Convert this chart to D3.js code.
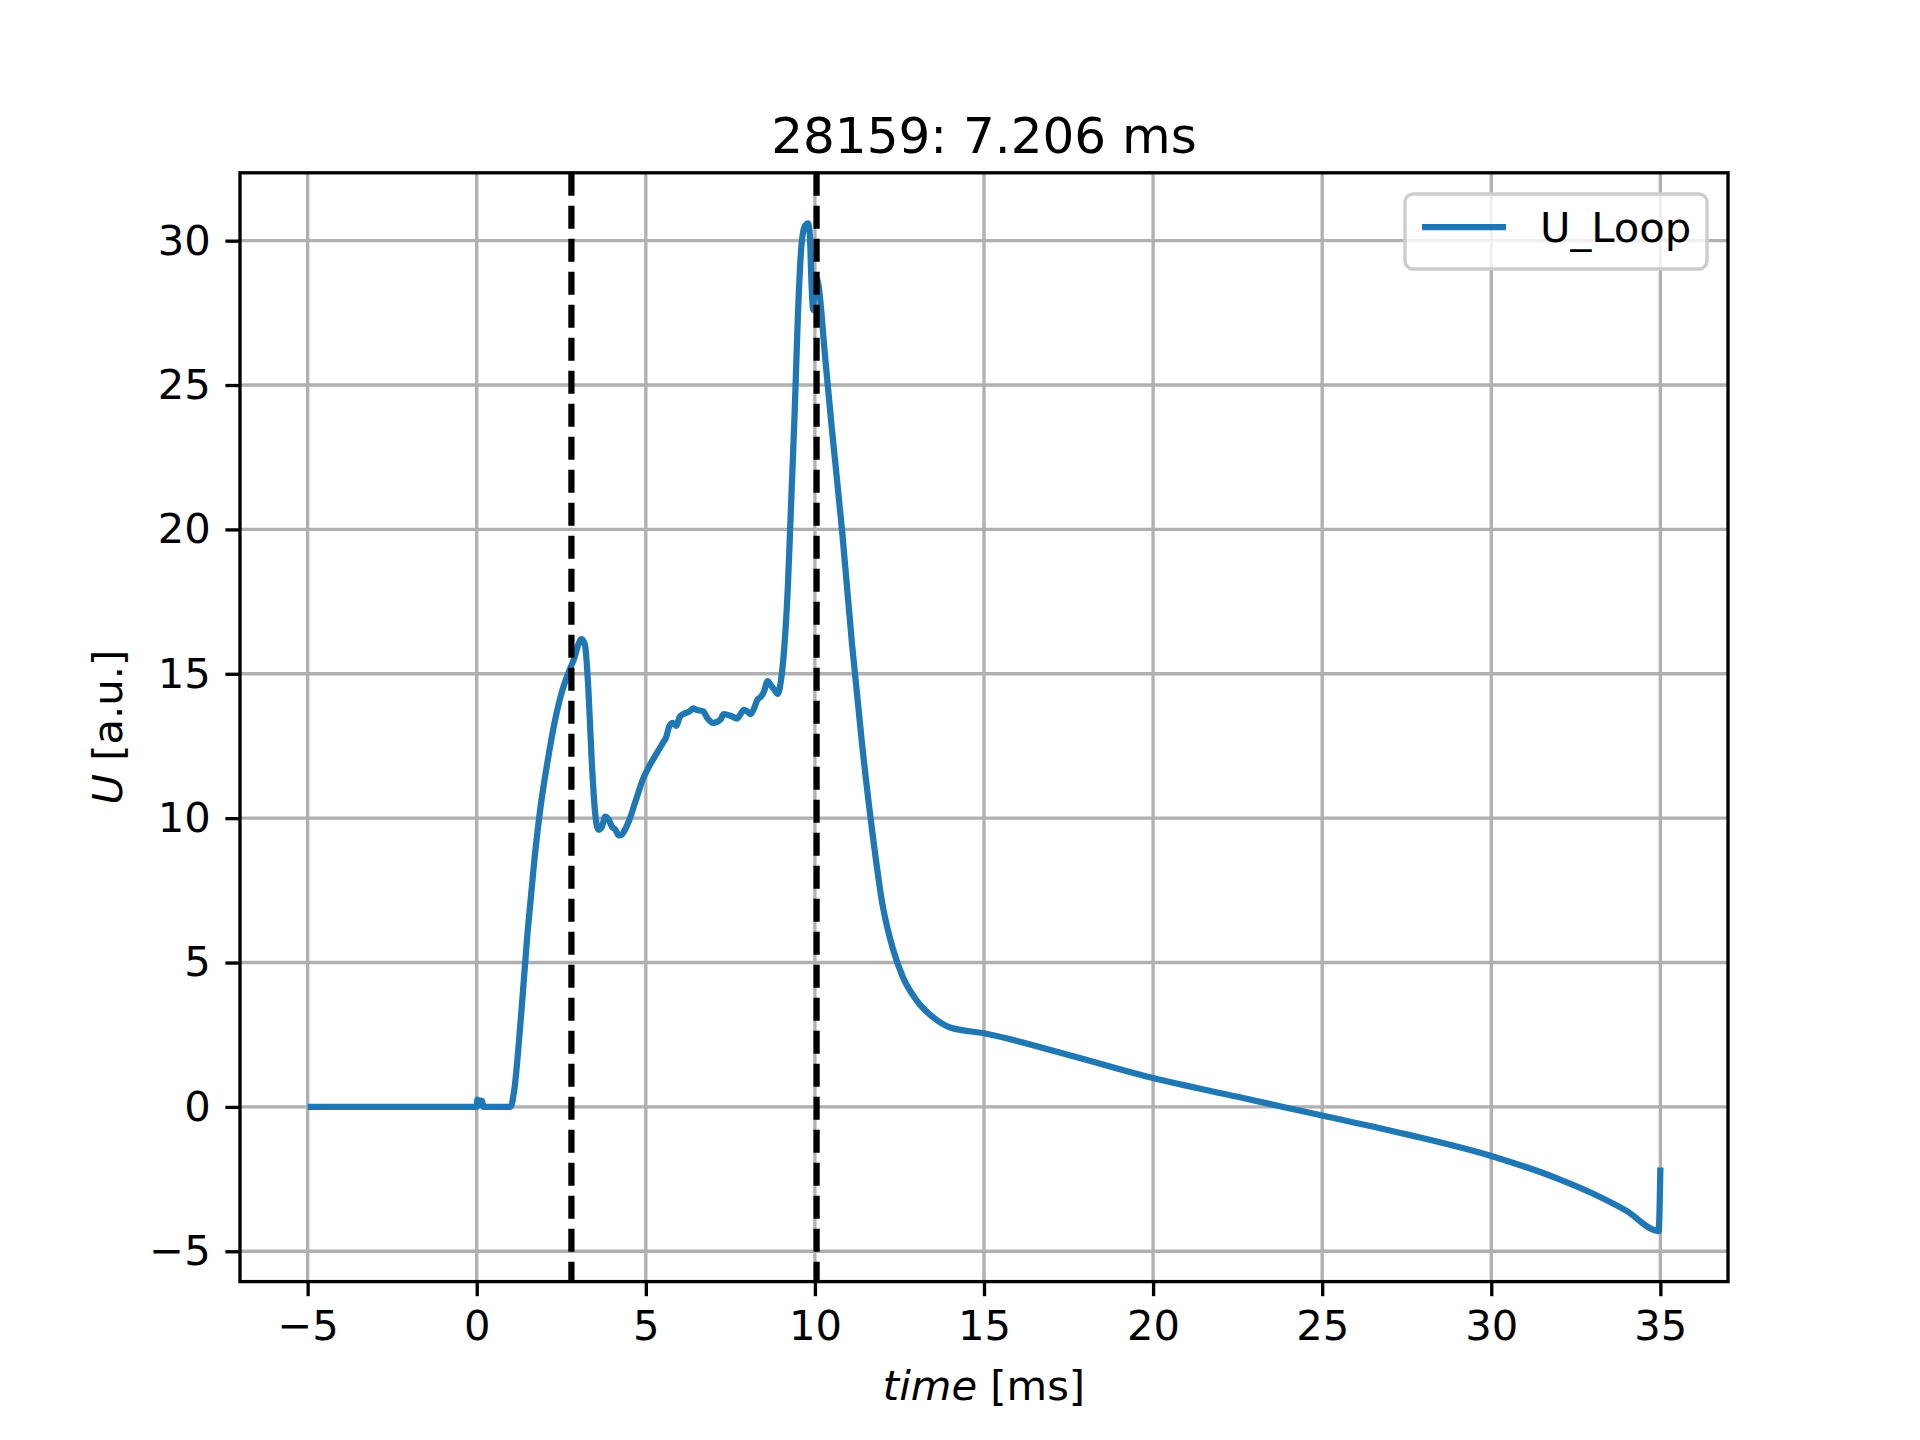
<!DOCTYPE html><html><head><meta charset="utf-8">
<script src="https://cdn.jsdelivr.net/npm/d3@7"></script>
<style>body{margin:0;background:#fff}svg{font-family:"DejaVu Sans",sans-serif}</style></head><body>
<script>
const times=[-5,0,0.02,0.08,0.12,0.16,0.2,0.3,1.0,1.1,1.3,1.5,1.7,1.9,2.1,2.3,2.5,2.7,2.9,3.0,3.1,3.2,3.3,3.4,3.5,3.6,3.7,3.8,3.9,4.0,4.1,4.2,4.3,4.5,4.7,4.9,5.1,5.3,5.5,5.6,5.7,5.8,5.9,6.0,6.1,6.3,6.4,6.5,6.7,6.8,7.0,7.2,7.3,7.5,7.7,7.8,7.9,8.0,8.1,8.2,8.3,8.4,8.5,8.6,8.7,8.8,8.9,9.0,9.1,9.2,9.3,9.4,9.5,9.6,9.7,9.8,9.85,9.9,9.95,10.0,10.1,10.3,10.5,10.8,11.1,11.4,11.7,12.0,12.3,12.6,13,13.5,14,15,17.5,20,22.5,25,27.5,30,32,33,34,34.95,35];
const uLoop=[0,0,0.25,0.05,0.22,0.2,0,0,0,0.5,3,6,8.5,10.5,12,13.3,14.3,15,15.6,16,16.2,16,14.5,12,10.2,9.6,9.7,10.05,9.95,9.7,9.6,9.4,9.45,9.9,10.6,11.3,11.8,12.2,12.6,12.8,13.2,13.3,13.2,13.5,13.6,13.7,13.8,13.75,13.7,13.5,13.3,13.4,13.6,13.55,13.45,13.6,13.75,13.7,13.6,13.8,14.1,14.2,14.4,14.75,14.6,14.45,14.3,14.8,16,18,21,24,27.5,29.8,30.5,30.6,30.2,28.5,27.6,28.8,28.5,26,23.5,20,16,12.5,9.5,7,5.5,4.5,3.7,3.1,2.75,2.55,1.8,1.0,0.35,-0.3,-0.95,-1.7,-2.5,-3.0,-3.6,-4.3,-2.1];
const xTicks=[-5,0,5,10,15,20,25,30,35];
const yTicks=[-5,0,5,10,15,20,25,30];
const vLines=[2.8,10.05];
const title="28159: 7.206 ms";

const W=1920,H=1440,L=240,R=1728,T=172.8,B=1281.6;
const svg=d3.select("body").append("svg").attr("width",W).attr("height",H);
const x=d3.scaleLinear().domain([-7,37]).range([L,R]);
const y=d3.scaleLinear().domain([-6.05,32.35]).range([B,T]);
const fs=41.7;
// grid
svg.append("g").selectAll("line").data(xTicks).join("line").attr("x1",d=>x(d)).attr("x2",d=>x(d)).attr("y1",T).attr("y2",B).attr("stroke","#b0b0b0").attr("stroke-width",3.33);
svg.append("g").selectAll("line").data(yTicks).join("line").attr("y1",d=>y(d)).attr("y2",d=>y(d)).attr("x1",L).attr("x2",R).attr("stroke","#b0b0b0").attr("stroke-width",3.33);
// line
const defs=svg.append("defs");defs.append("clipPath").attr("id","c").append("rect").attr("x",L).attr("y",T).attr("width",R-L).attr("height",B-T);
const data=times.map((t,i)=>[t,uLoop[i]]);
svg.append("path").datum(data).attr("clip-path","url(#c)").attr("fill","none").attr("stroke","#1f77b4").attr("stroke-width",6.25).attr("stroke-linejoin","round")
 .attr("d",d3.line().x(d=>x(d[0])).y(d=>y(d[1])).curve(d3.curveMonotoneX));
svg.append("g").selectAll("line").data(vLines).join("line").attr("x1",d=>x(d)).attr("x2",d=>x(d)).attr("y1",T).attr("y2",B).attr("stroke","#000").attr("stroke-width",6.25).attr("stroke-dasharray","23,10");
// axes
const ax=svg.append("g").attr("transform",`translate(0,${B})`).call(d3.axisBottom(x).tickValues(xTicks).tickSize(14.6).tickPadding(14.6).tickFormat(d=>d<0?"−"+(-d):d));
const ay=svg.append("g").attr("transform",`translate(${L},0)`).call(d3.axisLeft(y).tickValues(yTicks).tickSize(14.6).tickPadding(14.6).tickFormat(d=>d<0?"−"+(-d):d));
[ax,ay].forEach(a=>{a.select(".domain").remove();a.selectAll("line").attr("stroke-width",3.33);a.selectAll("text").attr("font-size",fs).attr("font-family","DejaVu Sans");});
svg.append("rect").attr("x",L).attr("y",T).attr("width",R-L).attr("height",B-T).attr("fill","none").attr("stroke","#000").attr("stroke-width",3.33);
// texts
svg.append("text").attr("x",(L+R)/2).attr("y",T-20).attr("text-anchor","middle").attr("font-size",50).text(title);
const xl=svg.append("text").attr("x",(L+R)/2).attr("y",1400).attr("text-anchor","middle").attr("font-size",fs);
xl.append("tspan").attr("font-style","italic").text("time");xl.append("tspan").text(" [ms]");
const yl=svg.append("text").attr("transform",`translate(122,${(T+B)/2}) rotate(-90)`).attr("text-anchor","middle").attr("font-size",fs);
yl.append("tspan").attr("font-style","italic").text("U");yl.append("tspan").text(" [a.u.]");
// legend
const lg=svg.append("g");
lg.append("rect").attr("x",1405).attr("y",194).attr("width",302).attr("height",75).attr("rx",8).attr("fill","#fff").attr("fill-opacity",0.8).attr("stroke","#ccc").attr("stroke-width",3.33);
lg.append("line").attr("x1",1422).attr("x2",1506).attr("y1",227).attr("y2",227).attr("stroke","#1f77b4").attr("stroke-width",6.25);
lg.append("text").attr("x",1540).attr("y",242).attr("font-size",fs).text("U_Loop");
</script></body></html>
